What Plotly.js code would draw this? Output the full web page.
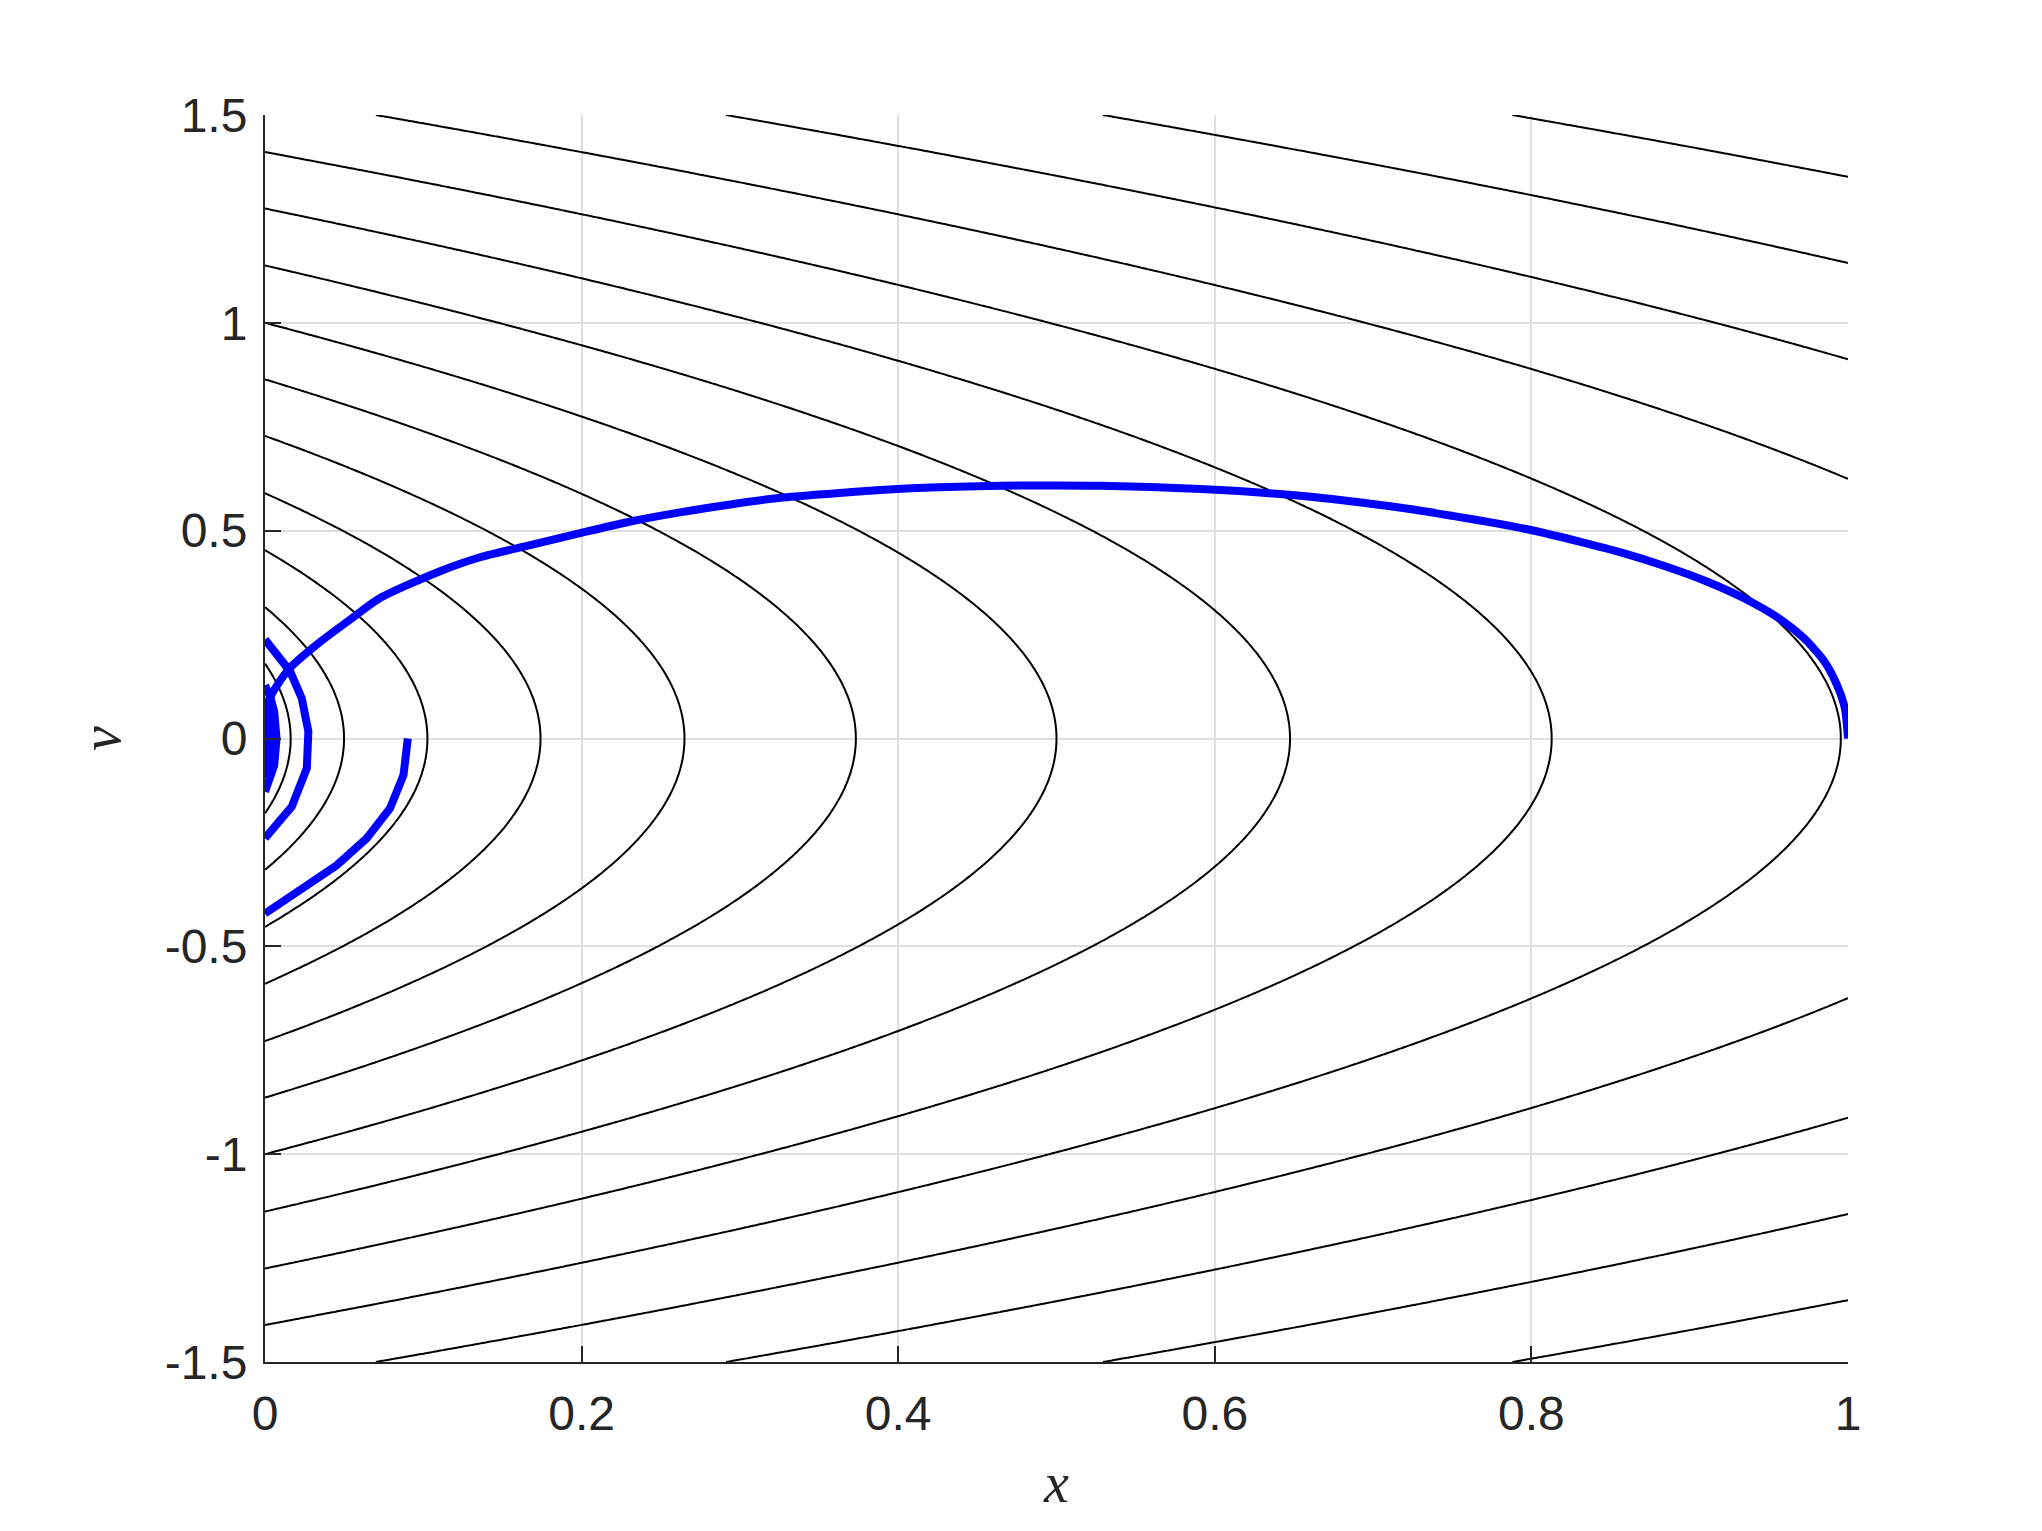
<!DOCTYPE html>
<html>
<head>
<meta charset="utf-8">
<script src="https://cdn.plot.ly/plotly-3.0.1.min.js"></script>
<style>html,body{margin:0;padding:0;background:#fff;}#chart{width:2042px;height:1531px;}</style>
</head>
<body>
<div id="chart"></div>
<script>
// ---- Data ----
// Contour levels, given by where each curve meets x = 0 (value of v there)
var levelIntercepts = [0.043, 0.180, 0.316, 0.453, 0.590, 0.728, 0.864, 1.000,
                       1.138, 1.275, 1.411, 1.546, 1.683, 1.819, 1.956];

// Main trajectory arc (from x = 1 back to the wall)
var arcX = [1.0, 0.998, 0.993, 0.985, 0.972, 0.956, 0.934, 0.910, 0.884, 0.857,
            0.831, 0.804, 0.777, 0.751, 0.7176, 0.654, 0.591, 0.528, 0.4647, 0.420,
            0.3888, 0.357, 0.3256, 0.294, 0.262, 0.2308, 0.199, 0.1675, 0.1359, 0.111,
            0.0727, 0.0537, 0.0327, 0.0158, 0.0052, 0.002, 0.0];
var arcV = [0.0, 0.073, 0.129, 0.186, 0.242, 0.290, 0.338, 0.379, 0.415, 0.447,
            0.473, 0.498, 0.518, 0.535, 0.555, 0.584, 0.600, 0.608, 0.608, 0.604,
            0.598, 0.589, 0.579, 0.563, 0.544, 0.522, 0.494, 0.465, 0.436, 0.403,
            0.338, 0.286, 0.226, 0.170, 0.113, 0.089, 0.070];

// Fall from x = 0.09
var fallX = [0.0902, 0.0875, 0.079, 0.0643, 0.0453, 0.0264, 0.0095, 0.0];
var fallV = [0.0, -0.088, -0.168, -0.240, -0.305, -0.353, -0.393, -0.421];

// First bounce
var bounce1X = [0.0, 0.0158, 0.0232, 0.0274, 0.0264, 0.0169, 0.0];
var bounce1V = [0.238, 0.162, 0.097, 0.017, -0.072, -0.164, -0.240];

// Later small bounces (cluster at the wall)
var bounce2X = [0.0, 0.0033, 0.0058, 0.0073, 0.0058, 0.0033, 0.0];
var bounce2V = [0.128, 0.100, 0.065, 0.0, -0.065, -0.100, -0.128];
var bounce3X = [0.0, 0.0025, 0.0042, 0.0025, 0.0];
var bounce3V = [0.095, 0.060, 0.0, -0.060, -0.095];
var bounce4X = [0.0, 0.0018, 0.0025, 0.0018, 0.0];
var bounce4V = [0.070, 0.040, 0.0, -0.040, -0.070];
var bounce5X = [0.0, 0.0008, 0.0];
var bounce5V = [0.040, 0.0, -0.040];
var bounce6X = [0.0, 0.0003, 0.0];
var bounce6V = [0.022, 0.0, -0.022];

// Axis ticks
var xTickVals = [0, 0.2, 0.4, 0.6, 0.8, 1];
var xTickText = ['0', '0.2', '0.4', '0.6', '0.8', '1'];
var yTickVals = [-1.5, -1, -0.5, 0, 0.5, 1, 1.5];
var yTickText = ['-1.5', '-1', '-0.5', '0', '0.5', '1', '1.5'];

// ---- Field for the level curves: value whose level equals the v-intercept at x = 0 ----
var gx = [], gv = [];
for (var i = 0; i <= 400; i++) gx.push(i / 400);
for (var j = 0; j <= 300; j++) gv.push(-1.5 + j * 0.01);
var gz = gv.map(function (v) {
  return gx.map(function (x) { return Math.sqrt(2 * x + v * v); });
});

var traces = [];
levelIntercepts.forEach(function (lv) {
  traces.push({
    type: 'contour', x: gx, y: gv, z: gz,
    autocontour: false,
    contours: {start: lv, end: lv, size: 1, coloring: 'lines', showlabels: false},
    colorscale: [[0, '#000000'], [1, '#000000']],
    showscale: false,
    line: {width: 2, smoothing: 1},
    hoverinfo: 'skip'
  });
});

var segs = [[arcX, arcV, 'spline'], [fallX, fallV, 'linear'], [bounce1X, bounce1V, 'linear'],
            [bounce2X, bounce2V, 'linear'], [bounce3X, bounce3V, 'linear'],
            [bounce4X, bounce4V, 'linear'], [bounce5X, bounce5V, 'linear'],
            [bounce6X, bounce6V, 'linear']];
segs.forEach(function (s) {
  traces.push({
    type: 'scatter', mode: 'lines', x: s[0], y: s[1],
    line: {color: '#0000FF', width: 8, shape: s[2], smoothing: 0.7},
    hoverinfo: 'skip', showlegend: false
  });
});

var axCommon = {
  showline: true, linecolor: '#262626', linewidth: 2,
  ticks: 'inside', ticklen: 16, tickwidth: 2, tickcolor: '#262626',
  showgrid: true, gridcolor: '#dfdfdf', gridwidth: 2,
  zeroline: false, mirror: false,
  tickfont: {family: 'Liberation Sans, Arial, sans-serif', size: 48, color: '#262626'},
  tickmode: 'array'
};

var layout = {
  width: 2042, height: 1531,
  paper_bgcolor: '#ffffff', plot_bgcolor: '#ffffff',
  margin: {l: 265, r: 194, t: 115, b: 169},
  showlegend: false,
  xaxis: Object.assign({}, axCommon, {
    range: [0, 1], tickvals: xTickVals, ticktext: xTickText,
    ticklabelstandoff: 8,
    title: {text: '<i>x</i>', font: {family: 'Liberation Serif, Times New Roman, serif', size: 56, color: '#262626'}, standoff: 24}
  }),
  yaxis: Object.assign({}, axCommon, {
    range: [-1.5, 1.5], tickvals: yTickVals, ticktext: yTickText,
    ticklabelstandoff: 6,
    title: {text: '<i>v</i>', font: {family: 'Liberation Serif, Times New Roman, serif', size: 56, color: '#262626'}, standoff: 26}
  })
};

Plotly.newPlot('chart', traces, layout, {staticPlot: true, displayModeBar: false});
</script>
</body>
</html>
